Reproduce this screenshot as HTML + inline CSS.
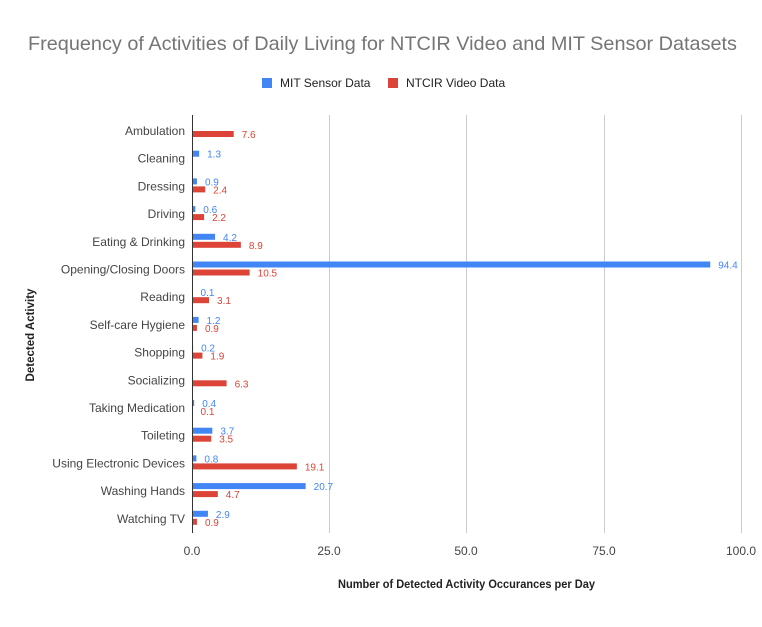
<!DOCTYPE html>
<html><head><meta charset="utf-8"><style>
body{margin:0;background:#fff;}
text{font-family:"Liberation Sans",Arial,sans-serif;}
</style></head><body>
<svg width="762" height="622" xmlns="http://www.w3.org/2000/svg">
<rect width="762" height="622" fill="#fff"/>
<text x="28" y="50" textLength="709" lengthAdjust="spacingAndGlyphs" font-size="19.5" fill="#757575">Frequency of Activities of Daily Living for NTCIR Video and MIT Sensor Datasets</text>
<rect x="262" y="78" width="10" height="10" fill="#4285f4"/>
<text x="280" y="87" font-size="12" fill="#222">MIT Sensor Data</text>
<rect x="388" y="78" width="10" height="10" fill="#db4437"/>
<text x="406" y="87" font-size="12" fill="#222">NTCIR Video Data</text>
<g stroke="#ccc" stroke-width="1">
<line x1="329.5" y1="115" x2="329.5" y2="533"/>
<line x1="466.5" y1="115" x2="466.5" y2="533"/>
<line x1="604.5" y1="115" x2="604.5" y2="533"/>
<line x1="741.5" y1="115" x2="741.5" y2="533"/>
</g>
<g font-size="12" fill="#444" text-anchor="middle">
<text x="192" y="555">0.0</text><text x="329" y="555">25.0</text><text x="466" y="555">50.0</text><text x="604" y="555">75.0</text><text x="741" y="555">100.0</text>
</g>
<text x="338" y="588" textLength="257" lengthAdjust="spacingAndGlyphs" font-size="12" font-weight="bold" fill="#222">Number of Detected Activity Occurances per Day</text>
<text transform="translate(34,335) rotate(-90)" text-anchor="middle" font-size="11.5" font-weight="bold" fill="#222">Detected Activity</text>
<g id="bars"></g>
<line x1="192.5" y1="115" x2="192.5" y2="533" stroke="#333"/>
</svg>
<script>
var d=[["Ambulation",null,7.6],["Cleaning",1.3,null],["Dressing",0.9,2.4],["Driving",0.6,2.2],["Eating & Drinking",4.2,8.9],["Opening/Closing Doors",94.4,10.5],["Reading",0.1,3.1],["Self-care Hygiene",1.2,0.9],["Shopping",0.2,1.9],["Socializing",null,6.3],["Taking Medication",0.4,0.1],["Toileting",3.7,3.5],["Using Electronic Devices",0.8,19.1],["Washing Hands",20.7,4.7],["Watching TV",2.9,0.9]];
var g=document.getElementById('bars'),s='';
d.forEach(function(r,i){var c=131+i*27.7;
s+='<text x="185" y="'+(c+4)+'" text-anchor="end" font-size="12" fill="#444">'+r[0].replace('&','&amp;')+'</text>';
if(r[1]!=null){var w=r[1]*5.49;s+='<rect x="192" y="'+(c-8)+'" width="'+Math.max(w,1)+'" height="6" fill="#4285f4"/><text x="'+(192+w+8)+'" y="'+(c-1)+'" font-size="10" fill="#4285f4">'+r[1].toFixed(1)+'</text>';}
if(r[2]!=null){var w2=r[2]*5.49;s+='<rect x="192" y="'+(c)+'" width="'+Math.max(w2,1)+'" height="6" fill="#db4437"/><text x="'+(192+w2+8)+'" y="'+(c+7)+'" font-size="10" fill="#db4437">'+r[2].toFixed(1)+'</text>';}
});
g.innerHTML=s;
</script>
</body></html>
